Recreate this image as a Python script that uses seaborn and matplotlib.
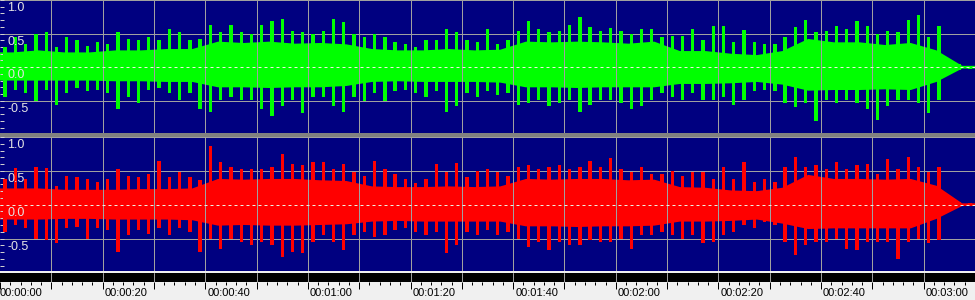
import numpy as np
import pandas as pd
import matplotlib
matplotlib.use("Agg")
import matplotlib.pyplot as plt
import seaborn as sns
from matplotlib.patches import Rectangle
from matplotlib.ticker import MultipleLocator

# ---------------- data ----------------
# peak amplitudes per 2-second bin (bin starts 0, 2, ..., 188 s)
peak_bin_start = list(range(0, 190, 2))

green_peak_hi = [0.30, 0.45, 0.35, 0.50, 0.52, 0.30, 0.45, 0.40, 0.32, 0.37,
                 0.35, 0.52, 0.42, 0.41, 0.45, 0.40, 0.57, 0.52, 0.40, 0.42,
                 0.63, 0.52, 0.63, 0.52, 0.50, 0.63, 0.69, 0.72, 0.54, 0.52,
                 0.50, 0.54, 0.72, 0.67, 0.50, 0.45, 0.50, 0.45, 0.37, 0.35,
                 0.30, 0.40, 0.40, 0.57, 0.52, 0.40, 0.37, 0.57, 0.35, 0.40,
                 0.54, 0.68, 0.57, 0.52, 0.54, 0.63, 0.75, 0.60, 0.54, 0.59,
                 0.54, 0.50, 0.57, 0.57, 0.45, 0.47, 0.47, 0.57, 0.40, 0.62,
                 0.62, 0.37, 0.55, 0.37, 0.35, 0.35, 0.45, 0.60, 0.70, 0.52,
                 0.54, 0.62, 0.57, 0.68, 0.62, 0.50, 0.54, 0.52, 0.70, 0.78,
                 0.45, 0.62, 0.08, 0.04, 0.02]
green_peak_lo = [-0.44, -0.34, -0.39, -0.51, -0.34, -0.56, -0.39, -0.31, -0.36, -0.34,
                 -0.39, -0.63, -0.44, -0.53, -0.34, -0.31, -0.39, -0.49, -0.39, -0.63,
                 -0.66, -0.49, -0.44, -0.49, -0.49, -0.63, -0.73, -0.58, -0.49, -0.68,
                 -0.44, -0.44, -0.58, -0.67, -0.44, -0.51, -0.39, -0.51, -0.36, -0.34,
                 -0.39, -0.44, -0.36, -0.66, -0.58, -0.39, -0.44, -0.36, -0.41, -0.39,
                 -0.56, -0.53, -0.49, -0.58, -0.53, -0.49, -0.67, -0.56, -0.49, -0.49,
                 -0.53, -0.63, -0.58, -0.49, -0.39, -0.44, -0.49, -0.39, -0.49, -0.49,
                 -0.44, -0.56, -0.49, -0.36, -0.34, -0.36, -0.53, -0.59, -0.53, -0.80,
                 -0.49, -0.53, -0.49, -0.53, -0.63, -0.78, -0.58, -0.49, -0.49, -0.53,
                 -0.68, -0.49, -0.10, -0.04, -0.02]
red_peak_hi = [0.38, 0.54, 0.38, 0.55, 0.54, 0.28, 0.43, 0.41, 0.38, 0.33,
               0.38, 0.53, 0.43, 0.41, 0.45, 0.65, 0.41, 0.48, 0.41, 0.36,
               0.86, 0.63, 0.55, 0.53, 0.53, 0.53, 0.55, 0.75, 0.60, 0.58,
               0.63, 0.63, 0.53, 0.60, 0.48, 0.43, 0.65, 0.53, 0.46, 0.38,
               0.32, 0.38, 0.60, 0.48, 0.61, 0.41, 0.50, 0.53, 0.48, 0.43,
               0.55, 0.58, 0.53, 0.55, 0.58, 0.53, 0.55, 0.65, 0.55, 0.69,
               0.53, 0.48, 0.55, 0.46, 0.46, 0.50, 0.43, 0.48, 0.48, 0.38,
               0.55, 0.38, 0.63, 0.33, 0.38, 0.33, 0.55, 0.70, 0.55, 0.58,
               0.53, 0.63, 0.53, 0.58, 0.60, 0.46, 0.68, 0.53, 0.70, 0.55,
               0.48, 0.55, 0.10, 0.04, 0.02]
red_peak_lo = [-0.40, -0.30, -0.35, -0.50, -0.52, -0.57, -0.35, -0.33, -0.50, -0.35,
               -0.38, -0.70, -0.45, -0.38, -0.43, -0.35, -0.45, -0.35, -0.40, -0.70,
               -0.50, -0.65, -0.50, -0.55, -0.60, -0.55, -0.60, -0.77, -0.70, -0.72,
               -0.55, -0.45, -0.55, -0.67, -0.45, -0.40, -0.48, -0.45, -0.38, -0.35,
               -0.40, -0.45, -0.40, -0.72, -0.60, -0.40, -0.45, -0.38, -0.45, -0.40,
               -0.50, -0.62, -0.55, -0.67, -0.55, -0.60, -0.60, -0.52, -0.55, -0.55,
               -0.50, -0.65, -0.45, -0.45, -0.40, -0.45, -0.50, -0.45, -0.57, -0.55,
               -0.45, -0.40, -0.30, -0.35, -0.25, -0.30, -0.55, -0.75, -0.60, -0.55,
               -0.55, -0.50, -0.65, -0.67, -0.55, -0.55, -0.55, -0.80, -0.55, -0.50,
               -0.57, -0.52, -0.10, -0.04, -0.02]

# dense body (typical level) per 5-second bin (bin starts 0, 5, ..., 185 s)
body_bin_start = list(range(0, 190, 5))
green_body_hi = [0.22, 0.25, 0.22, 0.22, 0.25, 0.25, 0.27, 0.27, 0.38, 0.36,
                 0.38, 0.35, 0.36, 0.34, 0.27, 0.25, 0.25, 0.27, 0.25, 0.26,
                 0.38, 0.37, 0.38, 0.37, 0.35, 0.38, 0.24, 0.24, 0.20, 0.18,
                 0.24, 0.42, 0.37, 0.37, 0.33, 0.36, 0.25, 0.02]
green_body_lo = [-0.20, -0.20, -0.20, -0.20, -0.21, -0.21, -0.22, -0.22, -0.30, -0.30,
                 -0.31, -0.30, -0.30, -0.28, -0.22, -0.21, -0.22, -0.22, -0.22, -0.23,
                 -0.30, -0.30, -0.31, -0.30, -0.30, -0.30, -0.25, -0.25, -0.24, -0.22,
                 -0.26, -0.35, -0.34, -0.34, -0.33, -0.34, -0.22, -0.02]
red_body_hi = [0.24, 0.24, 0.22, 0.22, 0.22, 0.23, 0.23, 0.24, 0.38, 0.37,
               0.38, 0.38, 0.36, 0.35, 0.27, 0.26, 0.26, 0.27, 0.26, 0.27,
               0.38, 0.37, 0.38, 0.38, 0.36, 0.37, 0.26, 0.25, 0.21, 0.20,
               0.25, 0.44, 0.38, 0.38, 0.37, 0.38, 0.28, 0.02]
red_body_lo = [-0.22, -0.22, -0.21, -0.21, -0.22, -0.22, -0.22, -0.23, -0.31, -0.30,
               -0.31, -0.31, -0.30, -0.29, -0.25, -0.24, -0.25, -0.25, -0.25, -0.25,
               -0.32, -0.32, -0.33, -0.32, -0.32, -0.31, -0.25, -0.25, -0.24, -0.22,
               -0.28, -0.36, -0.35, -0.35, -0.35, -0.35, -0.21, -0.02]

duration = 190
amp_labels = ["1.0", "0.5", "0.0", "-0.5"]
amp_label_values = [1.0, 0.5, 0.0, -0.5]
time_labels = ["00:00:00", "00:00:20", "00:00:40", "00:01:00", "00:01:20",
               "00:01:40", "00:02:00", "00:02:20", "00:02:40", "00:03:00"]
time_label_values = [0, 20, 40, 60, 80, 100, 120, 140, 160, 180]

# ---------------- styling ----------------
sns.set_style("dark")
plt.rcParams['font.family'] = ['Liberation Sans', 'DejaVu Sans']

NAVY = '#000080'
GRID = '#a0a0a0'
PX = 0.72  # one pixel in points at dpi 100

W, H = 975, 300
fig = plt.figure(figsize=(W / 100, H / 100), dpi=100)
fig.patch.set_facecolor('#f0f0f0')


def rect(y0, y1):
    return [0, 1 - y1 / H, 1, (y1 - y0) / H]


ax_top = fig.add_axes(rect(0, 133))
ax_bot = fig.add_axes(rect(137, 271))
ax_bar = fig.add_axes(rect(273, 282))
ax_time = fig.add_axes(rect(282, 300))
fig.patches.append(Rectangle((0, 1 - 137 / H), 1, 4 / H, transform=fig.transFigure,
                             facecolor='#808080', edgecolor='none', zorder=0))


def draw_channel(ax, hi, lo, bhi, blo, color):
    ax.set_facecolor(NAVY)
    # body drawn through the bin centres, held flat to both ends
    centres = [0] + [s + 2.5 for s in body_bin_start] + [duration]
    ax.fill_between(centres, [bhi[0]] + list(bhi) + [bhi[-1]],
                    [blo[0]] + list(blo) + [blo[-1]],
                    color=color, linewidth=0, zorder=2)
    df = pd.DataFrame({'t': [s + 1 for s in peak_bin_start], 'hi': hi, 'lo': lo})
    for col in ('hi', 'lo'):
        sns.barplot(data=df, x='t', y=col, native_scale=True, width=0.32,
                    color=color, saturation=1, linewidth=0, errorbar=None,
                    ax=ax, zorder=3)
    ax.set_xlim(0, duration)
    ax.set_ylim(-0.98, 1.0)
    ax.set_xlabel('')
    ax.set_ylabel('')
    ax.set_xticks(np.arange(10, duration, 10))
    ax.set_yticks([-0.5, 0.5, 1.0])
    ax.yaxis.set_minor_locator(MultipleLocator(0.1))
    ax.grid(True, which='major', color=GRID, linewidth=PX, linestyle='-')
    ax.grid(False, which='minor')
    ax.set_axisbelow(False)
    for gl in ax.get_xgridlines() + ax.get_ygridlines():
        gl.set_zorder(5)
    ax.axhline(0, color='#f0f0e0', linewidth=PX, linestyle=(0, (3, 3)), zorder=6)
    ax.tick_params(axis='x', length=0, labelbottom=False)
    ax.tick_params(axis='y', which='both', direction='in', length=3, width=PX,
                   color='#d0d0d0', labelleft=False, left=True)
    for s in ax.spines.values():
        s.set_visible(False)
    for lab, v in zip(amp_labels, amp_label_values):
        ax.annotate(lab, xy=(0, v), xycoords=('axes fraction', 'data'),
                    xytext=(7, -2), textcoords='offset pixels',
                    ha='left', va='top', color='#e4e4e4', fontsize=9, zorder=7)


draw_channel(ax_top, green_peak_hi, green_peak_lo, green_body_hi, green_body_lo, '#00ff00')
draw_channel(ax_bot, red_peak_hi, red_peak_lo, red_body_hi, red_body_lo, '#ff0000')

# black bar with grid gaps
ax_bar.set_facecolor('black')
ax_bar.set_xlim(0, duration)
ax_bar.set_ylim(0, 1)
ax_bar.set_xticks(np.arange(10, duration, 10))
ax_bar.set_yticks([])
ax_bar.grid(True, axis='x', color=GRID, linewidth=PX)
ax_bar.tick_params(axis='x', length=0, labelbottom=False)
for s in ax_bar.spines.values():
    s.set_visible(False)

# time ruler
ax_time.set_facecolor('#f0f0f0')
ax_time.set_xlim(0, duration)
ax_time.set_ylim(0, 1)
ax_time.xaxis.tick_top()
ax_time.set_xticks(np.arange(0, duration, 10))
ax_time.xaxis.set_minor_locator(MultipleLocator(2))
ax_time.tick_params(axis='x', which='major', direction='in', length=5, width=PX,
                    color='black', labeltop=False, labelbottom=False)
ax_time.tick_params(axis='x', which='minor', direction='in', length=2.2, width=PX,
                    color='black')
ax_time.set_yticks([])
ax_time.grid(False)
for s in ax_time.spines.values():
    s.set_visible(False)
for lab, v in zip(time_labels, time_label_values):
    ax_time.annotate(lab, xy=(v, 0.38), xycoords='data',
                     xytext=(0 if v == 0 else 2, 0), textcoords='offset pixels',
                     ha='left', va='center', color='black', fontsize=8)

fig.savefig('out.png', dpi=100, facecolor=fig.get_facecolor())
